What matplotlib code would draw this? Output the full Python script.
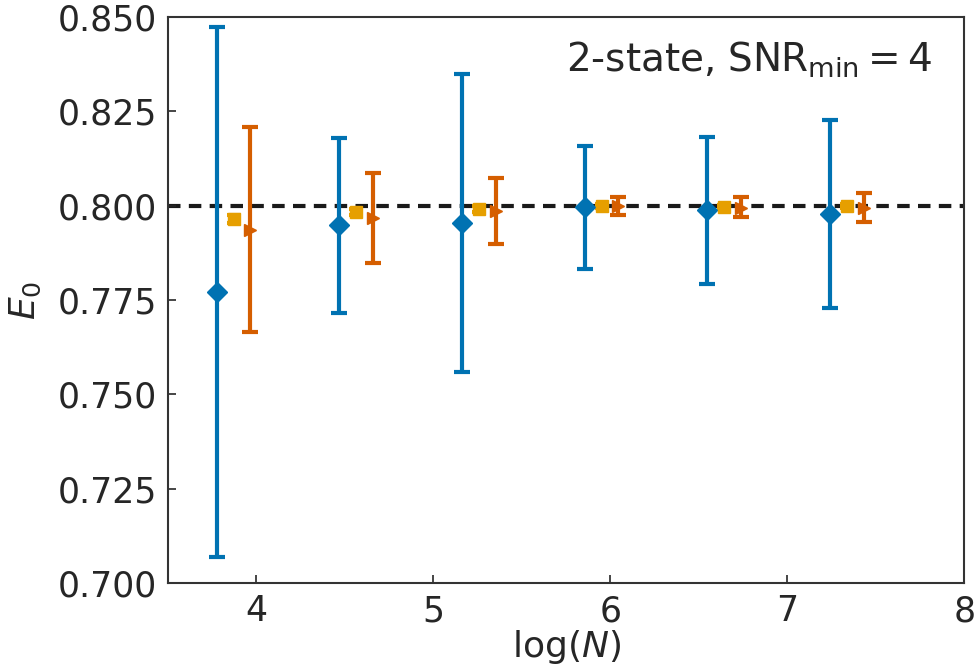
import numpy as np
import matplotlib.pyplot as plt

logN = np.log([48, 96, 192, 384, 768, 1536])

# blue diamonds
e_a = [0.7771, 0.7949, 0.7954, 0.7996, 0.7988, 0.7978]
lo_a = [0.0702, 0.0234, 0.0395, 0.0164, 0.0196, 0.0249]
hi_a = [0.0702, 0.0230, 0.0395, 0.0162, 0.0194, 0.0249]

# orange squares
e_b = [0.7965, 0.7983, 0.7991, 0.7999, 0.7996, 0.7999]
err_b = [0.0011, 0.0009, 0.0008, 0.0006, 0.0006, 0.0006]

# vermillion triangles
e_c = [0.7935, 0.7967, 0.7986, 0.7999, 0.7994, 0.7994]
lo_c = [0.0270, 0.0119, 0.0088, 0.0024, 0.0024, 0.0037]
hi_c = [0.0273, 0.0120, 0.0087, 0.0024, 0.0029, 0.0040]

plt.rcParams['font.size'] = 25
plt.rcParams['mathtext.fontset'] = 'dejavusans'
plt.rcParams['text.color'] = '#262626'
plt.rcParams['axes.labelcolor'] = '#262626'
plt.rcParams['xtick.color'] = '#262626'
plt.rcParams['ytick.color'] = '#262626'

fig = plt.figure(figsize=(9.76, 6.72), dpi=100)
ax = fig.add_axes([0.172, 0.1324, 0.816, 0.8423])

ax.axhline(0.8, color='#1a1a1a', lw=3, ls=(0, (3, 2)), zorder=1)

ax.errorbar(logN - 0.095, e_a, yerr=[lo_a, hi_a], fmt='D', color='#0072B2',
            ms=10, lw=3, capsize=6, capthick=3, zorder=3)
ax.errorbar(logN, e_b, yerr=err_b, fmt='s', color='#E69F00',
            ms=8, lw=3, capsize=5, capthick=3, zorder=3)
ax.errorbar(logN + 0.095, e_c, yerr=[lo_c, hi_c], fmt='>', color='#D55E00',
            ms=9, lw=3, capsize=6, capthick=3, zorder=2)

ax.set_xlim(3.5, 8)
ax.set_ylim(0.7, 0.85)
ax.set_xticks([4, 5, 6, 7, 8])
ax.set_yticks([0.7, 0.725, 0.75, 0.775, 0.8, 0.825, 0.85])
ax.set_yticklabels(['%.3f' % v for v in ax.get_yticks()])
ax.tick_params(direction='in', length=6, width=1.2, pad=8)
for s in ax.spines.values():
    s.set_color('#333333')
    s.set_linewidth(1.5)

ax.set_xlabel(r'$\mathrm{log}(N)$', fontsize=26, labelpad=0)
ax.set_ylabel('$E_0$', fontsize=26, labelpad=10)
ax.text(0.96, 0.925, r'2-state, SNR$_{\mathrm{min}} = 4$', transform=ax.transAxes,
        ha='right', va='center', fontsize=28)

fig.savefig('out.png', dpi=100)
